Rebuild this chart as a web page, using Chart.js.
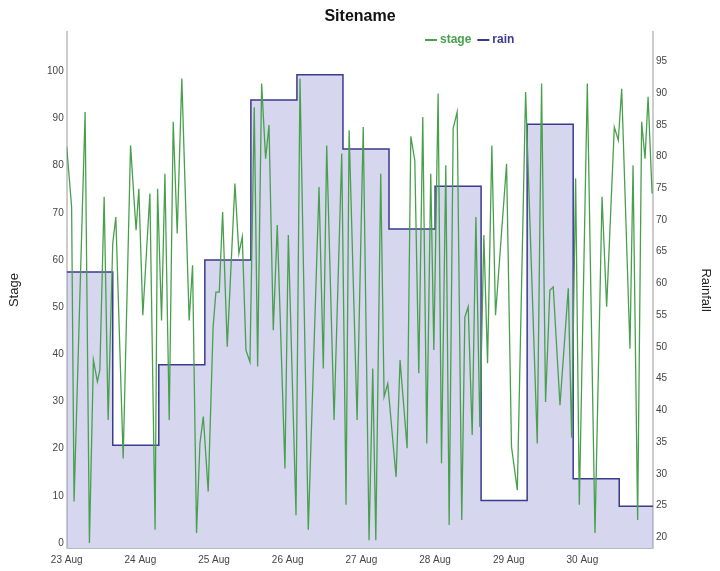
<!DOCTYPE html>
<html>
<head>
<meta charset="utf-8">
<title>Sitename</title>
<script src="https://cdn.jsdelivr.net/npm/chart.js@4.4.1/dist/chart.umd.min.js"></script>
<style>
  html, body { margin: 0; padding: 0; background: #fff; }
  #wrap { width: 720px; height: 571px; }
</style>
</head>
<body>
<div id="wrap"><canvas id="chart" width="720" height="571"></canvas></div>
<script>
// x axis: hours since 23 Aug 00:00, one label per day
const dayLabels = ['23 Aug', '24 Aug', '25 Aug', '26 Aug', '27 Aug', '28 Aug', '29 Aug', '30 Aug'];
const stageTicks = [0, 10, 20, 30, 40, 50, 60, 70, 80, 90, 100];
const rainTicks = [20, 25, 30, 35, 40, 45, 50, 55, 60, 65, 70, 75, 80, 85, 90, 95];

// stage (hour offset / value)
const stageHours = [
  0, 1.6, 2.4, 6.0, 7.4, 8.7, 10, 10.8, 12.2, 13.5, 15, 16, 18.4, 20.8, 22.6, 23.5,
  24.8, 27.1, 28.8, 29.6, 30.9, 32, 33.4, 34.7, 36, 37.5, 39.9, 41, 42.3, 43.4, 44.5, 46.1,
  47.7, 48.6, 49.7, 50.8, 52.3, 54.8, 56.1, 57.2, 58.4, 59.7, 61.1, 62.2, 63.5, 64.8, 65.9, 67.3,
  68.6, 71.1, 72.2, 74.7, 76, 78.7, 82.2, 83.6, 84.7, 87.1, 89.6, 91, 92, 94.6, 96.6, 98.5,
  99.7, 100.7, 102.3, 103.4, 104.6, 107.3, 108.6, 110.9, 112.1, 113.4, 114.7, 116, 117.3, 118.6, 119.6, 121,
  122.1, 123.5, 124.6, 125.9, 127.2, 128.7, 129.7, 130.8, 132.1, 133.3, 134.6, 135.9, 137.1, 138.5, 139.7, 143.3,
  144.9, 146.8, 149.5, 153.3, 154.7, 156, 157.4, 158.5, 160.7, 163.4, 164.5, 165.8, 167, 169.6, 172.1, 174.4,
  175.9, 178.4, 179.7, 180.8, 183.5, 184.5, 186, 187.3, 188.4, 189.4, 190.7
];
const stageValues = [
  84.0, 71.3, 8.8, 91.4, 0, 38.8, 34.2, 36.7, 73.4, 26.1, 63.5, 69.1, 17.9, 84.3, 66.3, 75.1,
  48.3, 74.1, 2.8, 75.1, 47.2, 78.3, 26.1, 89.3, 65.6, 98.5, 47.2, 58.9, 2.1, 21.1, 26.8, 10.9,
  45.8, 53.2, 53.2, 70.2, 41.6, 76.2, 61.4, 64.9, 40.9, 38.4, 92.4, 37.4, 97.4, 81.5, 88.6, 45.1,
  67.4, 15.8, 65.3, 5.9, 98.5, 2.8, 75.5, 37.0, 84.3, 26.1, 82.6, 8.1, 87.5, 26.1, 88.2, 0.6,
  37, 0.6, 78.3, 31, 33.8, 14, 38.8, 20.1, 86.2, 81.1, 36, 90.3, 21.1, 78.3, 40.9, 95.3,
  16.9, 80.1, 3.8, 87.9, 91.4, 4.9, 47.9, 50.1, 22.9, 69.1, 24.6, 65.3, 38.1, 84.3, 48.3, 80.4,
  20.4, 11.2, 95.6, 21.1, 97.4, 29.9, 53.6, 54.3, 29.2, 54, 22.3, 77.3, 8.1, 97.4, 2.1, 73.4,
  50.1, 88.2, 85.4, 96.3, 41.2, 80.1, 4.9, 89.3, 81.5, 94.6, 74.1
];

// rain: one value every 15 hours, last step runs to the end of the axis
const rainHours = [0, 15, 30, 45, 60, 75, 90, 105, 120, 135, 150, 165, 180, 191];
const rainValues = [61.8, 34.5, 47.2, 63.7, 88.9, 92.9, 81.2, 68.6, 75.3, 25.8, 85.1, 29.2, 24.9, 24.9];

const FONT = 'Liberation Sans, Arial, sans-serif';
const stageColor = '#48a04d';
const rainColor = '#3a3a8e';

// legend sits inside the plot, drawn by hand
const floatingLegend = {
  id: 'floatingLegend',
  afterDraw(chart) {
    const ctx = chart.ctx;
    const items = [
      { text: 'stage', color: stageColor },
      { text: 'rain', color: rainColor }
    ];
    let x = 425;
    const y = 40;
    ctx.save();
    ctx.font = 'bold 12px ' + FONT;
    ctx.textBaseline = 'middle';
    items.forEach(function(it) {
      ctx.strokeStyle = it.color;
      ctx.lineWidth = 2;
      ctx.beginPath();
      ctx.moveTo(x, y);
      ctx.lineTo(x + 12, y);
      ctx.stroke();
      ctx.fillStyle = it.color;
      ctx.fillText(it.text, x + 15, y);
      x += 15 + ctx.measureText(it.text).width + 6;
    });
    ctx.restore();
  }
};

function setTicks(list) {
  return function(scale) {
    scale.ticks = list.map(function(v) { return { value: v }; });
  };
}

new Chart(document.getElementById('chart'), {
  type: 'line',
  data: {
    datasets: [
      {
        label: 'stage',
        data: stageHours.map(function(h, i) { return { x: h, y: stageValues[i] }; }),
        yAxisID: 'y',
        borderColor: stageColor,
        borderWidth: 1.3,
        pointRadius: 0,
        tension: 0,
        fill: false
      },
      {
        label: 'rain',
        data: rainHours.map(function(h, i) { return { x: h, y: rainValues[i] }; }),
        yAxisID: 'y1',
        stepped: true,
        borderColor: rainColor,
        borderWidth: 1.5,
        backgroundColor: 'rgba(120,120,200,0.3)',
        pointRadius: 0,
        fill: 'start'
      }
    ]
  },
  options: {
    responsive: false,
    animation: false,
    layout: { padding: 0 },
    plugins: {
      legend: { display: false },
      tooltip: { enabled: false },
      title: {
        display: true,
        text: 'Sitename',
        color: '#111',
        font: { family: FONT, size: 16, weight: 'bold' },
        padding: { top: 7, bottom: 6 }
      }
    },
    scales: {
      x: {
        type: 'linear',
        min: 0,
        max: 191,
        afterBuildTicks: setTicks(dayLabels.map(function(d, i) { return i * 24; })),
        afterFit: function(s) { s.height = 23; },
        ticks: {
          callback: function(v, i) { return dayLabels[i]; },
          maxRotation: 0,
          autoSkip: false,
          color: '#444',
          font: { family: FONT, size: 10 },
          padding: 6
        },
        grid: { display: false, drawTicks: false },
        border: { color: '#b8b8b8', width: 1 }
      },
      y: {
        position: 'left',
        min: -1.06,
        max: 108.3,
        afterBuildTicks: setTicks(stageTicks),
        afterFit: function(s) { s.width = 66.7; },
        ticks: { color: '#444', font: { family: FONT, size: 10 }, padding: 3 },
        grid: { display: false, drawTicks: false },
        border: { color: '#cccccc', width: 2 },
        title: {
          display: true,
          text: 'Stage',
          color: '#222',
          font: { family: FONT, size: 13 },
          padding: { top: 7, bottom: 0 }
        }
      },
      y1: {
        position: 'right',
        min: 18.3,
        max: 99.6,
        afterBuildTicks: setTicks(rainTicks),
        afterFit: function(s) { s.width = 67; },
        ticks: { color: '#444', font: { family: FONT, size: 10 }, padding: 3 },
        grid: { display: false, drawTicks: false },
        border: { color: '#cccccc', width: 2 },
        title: {
          display: true,
          text: 'Rainfall',
          color: '#222',
          font: { family: FONT, size: 13 },
          padding: { top: 7, bottom: 0 }
        }
      }
    }
  },
  plugins: [floatingLegend]
});
</script>
</body>
</html>
